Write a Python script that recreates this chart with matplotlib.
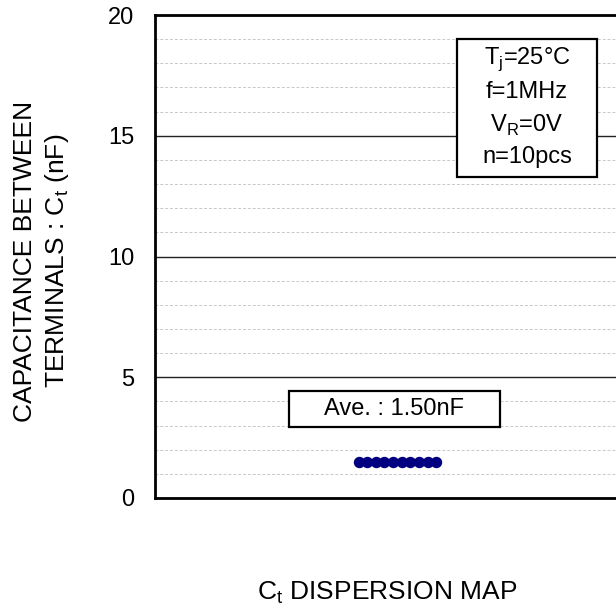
import numpy as np
import matplotlib
matplotlib.use("Agg")
import matplotlib.pyplot as plt
from matplotlib.patches import Rectangle

plt.rcParams['font.family'] = ['Liberation Sans', 'DejaVu Sans']

# mesures (nF), 10 pieces
sample_no = [1, 2, 3, 4, 5, 6, 7, 8, 9, 10]
ct_values = [1.50, 1.50, 1.50, 1.50, 1.50, 1.50, 1.50, 1.50, 1.50, 1.50]
y_ticks = [0, 5, 10, 15, 20]
ave_label = "Ave. : 1.50nF"
cond_lines = ["T$_\\mathregular{j}$=25°C", "f=1MHz", "V$_\\mathregular{R}$=0V", "n=10pcs"]

W, H = 616, 611


def fx(px):
    return px / W


def fy(py):
    return 1 - py / H


fig = plt.figure(figsize=(W / 100, H / 100), dpi=100)
ax = fig.add_axes([fx(155), fy(498), fx(620) - fx(155), fy(15) - fy(498)])

ax.plot(sample_no, ct_values, 'o', color='#000080', markersize=7.2, zorder=5)

ax.set_xlim(-22.6, 31.3)
ax.set_ylim(0, 20)
ax.set_yticks(y_ticks)
ax.set_yticks(np.arange(0, 21, 1), minor=True)
ax.set_xticks([])
ax.tick_params(axis='y', which='both', length=0, pad=15, labelsize=17)

ax.grid(axis='y', which='major', color='#222222', linewidth=1.0, linestyle='-')
ax.grid(axis='y', which='minor', color='#c8c8c8', linewidth=0.7, linestyle=(0, (3, 2)))
ax.set_axisbelow(True)

for side in ['left', 'bottom', 'top']:
    ax.spines[side].set_linewidth(2)
    ax.spines[side].set_color('black')
ax.spines['right'].set_visible(False)

# boite moyenne
fig.patches.append(Rectangle((fx(289), fy(427)), fx(500) - fx(289), fy(391) - fy(427),
                             transform=fig.transFigure, facecolor='white',
                             edgecolor='black', linewidth=1.6, zorder=3))
fig.text(fx(394), fy(409), ave_label, ha='center', va='center', fontsize=17, zorder=4)

# boite conditions
fig.patches.append(Rectangle((fx(457), fy(177)), fx(597) - fx(457), fy(39) - fy(177),
                             transform=fig.transFigure, facecolor='white',
                             edgecolor='black', linewidth=1.6, zorder=3))
for line, ypx in zip(cond_lines, [59, 92, 125, 157]):
    fig.text(fx(527), fy(ypx), line, ha='center', va='center', fontsize=17, zorder=4)

fig.text(fx(25), fy(261), "CAPACITANCE BETWEEN", rotation=90,
         ha='center', va='center', fontsize=19)
fig.text(fx(57), fy(261), "TERMINALS : C$_\\mathregular{t}$ (nF)", rotation=90,
         ha='center', va='center', fontsize=19)
fig.text(fx(387), fy(593), "C$_\\mathregular{t}$ DISPERSION MAP",
         ha='center', va='center', fontsize=19)

fig.savefig("out.png", dpi=100)
